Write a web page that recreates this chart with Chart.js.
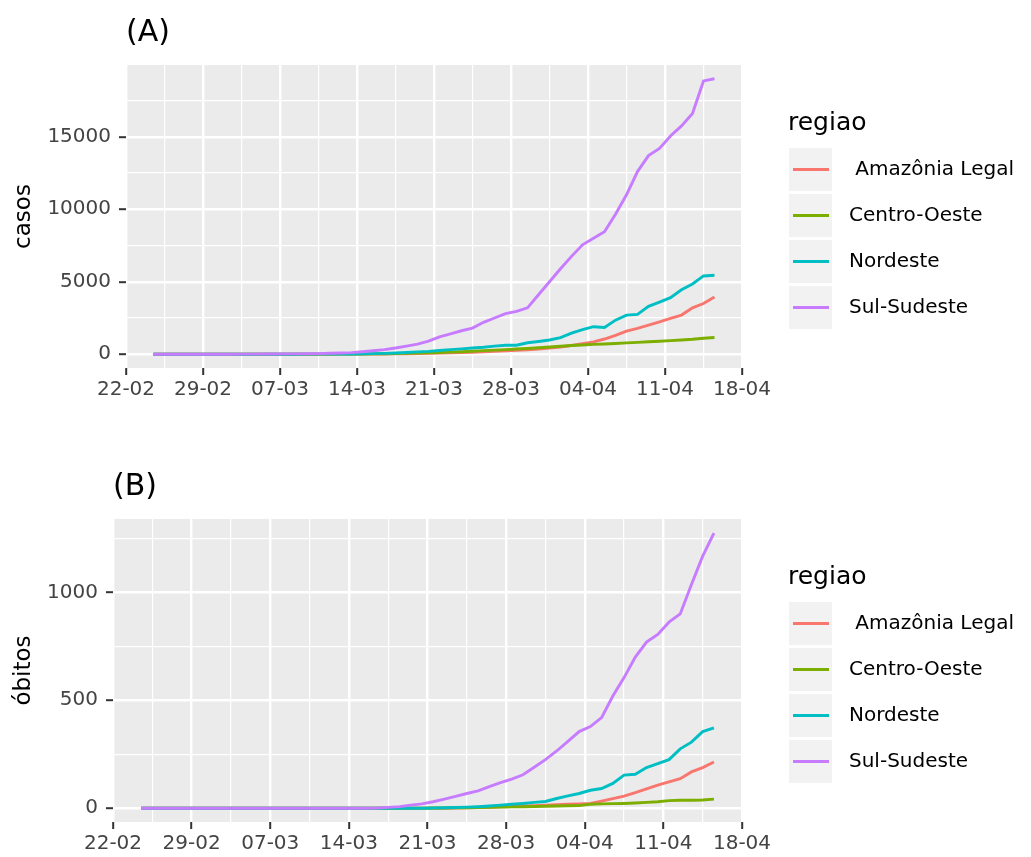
<!DOCTYPE html>
<html>
<head>
<meta charset="utf-8">
<script src="https://cdn.jsdelivr.net/npm/chart.js@4"></script>
<style>
  body { margin: 0; background: #fff; }
  .painel { position: absolute; left: 0; width: 1031px; }
</style>
</head>
<body>
<div class="painel" style="top:0;height:428px"><canvas id="graficoA"></canvas></div>
<div class="painel" style="top:428px;height:429px"><canvas id="graficoB"></canvas></div>
<script>
// datas (dia-mês, 2020)
const datas = ["25-02","26-02","27-02","28-02","29-02","01-03","02-03","03-03","04-03","05-03",
  "06-03","07-03","08-03","09-03","10-03","11-03","12-03","13-03","14-03","15-03",
  "16-03","17-03","18-03","19-03","20-03","21-03","22-03","23-03","24-03","25-03",
  "26-03","27-03","28-03","29-03","30-03","31-03","01-04","02-04","03-04","04-04",
  "05-04","06-04","07-04","08-04","09-04","10-04","11-04","12-04","13-04","14-04",
  "15-04","16-04"];
const rotulosX = ["22-02","29-02","07-03","14-03","21-03","28-03","04-04","11-04","18-04"];

const regioes = [" Amazônia Legal", "Centro-Oeste", "Nordeste", "Sul-Sudeste"];
const cores = ["#F8766D", "#7CAE00", "#00BFC4", "#C77CFF"];

// casos acumulados
const casosAmazonia = [0,0,0,0,0,0,0,0,0,0,0,0,0,
  1,1,2,3,4,5,8,12,18,25,35,45,60,75,95,115,140,170,200,230,270,310,360,420,500,600,720,
  850,1050,1300,1600,1780,2000,2230,2480,2700,3200,3500,3950];
const casosCentroOeste = [0,0,0,0,0,0,0,0,0,0,0,
  1,1,2,3,4,6,8,12,18,25,35,45,60,75,95,120,145,175,210,245,280,320,360,400,450,500,550,600,
  640,680,710,740,780,820,860,900,940,980,1030,1100,1150];
const casosNordeste = [0,0,0,0,0,0,0,0,0,0,
  1,2,2,2,4,6,10,14,20,30,45,60,85,120,160,200,260,320,370,430,480,560,620,620,790,880,980,
  1150,1450,1700,1900,1850,2350,2700,2750,3300,3600,3900,4450,4850,5400,5450];
const casosSulSudeste = [1,1,1,1,2,2,2,3,4,8,13,19,25,25,30,45,65,85,110,170,
  240,320,430,560,700,900,1200,1400,1620,1800,2200,2500,2800,2950,3200,4100,5000,5900,6750,7550,
  8000,8450,9650,11000,12600,13700,14200,15050,15750,16600,18850,19000];

// óbitos acumulados
const obitosAmazonia = [0,0,0,0,0,0,0,0,0,0,0,0,0,0,0,0,0,0,0,0,0,0,0,0,0,0,0,0,
  1,2,3,4,6,8,10,12,14,16,18,20,22,33,44,56,72,90,107,122,137,168,188,214];
const obitosCentroOeste = [0,0,0,0,0,0,0,0,0,0,0,0,0,0,0,0,0,0,0,0,0,0,0,0,0,0,
  1,1,2,2,3,4,5,6,7,8,9,10,11,12,18,20,21,22,24,27,30,35,37,37,38,42];
const obitosNordeste = [0,0,0,0,0,0,0,0,0,0,0,0,0,0,0,0,0,0,0,0,0,0,0,0,0,0,
  1,2,3,5,7,10,14,18,22,27,31,45,57,68,83,91,115,153,157,188,206,225,275,306,355,372];
const obitosSulSudeste = [0,0,0,0,0,0,0,0,0,0,0,0,0,0,0,0,0,0,0,0,0,
  1,4,7,14,20,30,42,55,68,80,100,118,135,155,190,225,265,310,355,378,
  420,520,605,700,770,805,862,900,1037,1168,1275];

const ticksCasos = [0, 2500, 5000, 7500, 10000, 12500, 15000, 17500];
const majorCasos = [0, 5000, 10000, 15000];
const ticksObitos = [0, 250, 500, 750, 1000, 1250];
const majorObitos = [0, 500, 1000];

Chart.defaults.font.family = '"DejaVu Sans", sans-serif';

function diaDe(s) {
  const [d, m] = s.split("-").map(Number);
  return (Date.UTC(2020, m - 1, d) - Date.UTC(2020, 1, 22)) / 86400000;
}

const estiloGG = {
  id: "estiloGG",
  beforeDraw(chart) {
    const a = chart.chartArea, c = chart.ctx;
    c.save();
    c.fillStyle = "#EBEBEB";
    c.fillRect(a.left, a.top, a.right - a.left, a.bottom - a.top);
    c.restore();
  },
  afterDraw(chart, args, opts) {
    const a = chart.chartArea, c = chart.ctx;
    const cy = (a.top + a.bottom) / 2;
    c.save();
    c.fillStyle = "#000";
    c.textAlign = "left";
    c.textBaseline = "middle";
    c.font = '30px "DejaVu Sans"';
    c.fillText(opts.tag, a.left, a.top - 32);
    c.textBaseline = "alphabetic";
    c.font = '25px "DejaVu Sans"';
    c.fillText("regiao", a.right + 46, cy - 86.5);
    c.font = '20px "DejaVu Sans"';
    c.textBaseline = "middle";
    chart.data.datasets.forEach((ds, k) => {
      const yc = cy - 47 + 46 * k;
      c.fillStyle = "#F2F2F2";
      c.fillRect(a.right + 47, yc - 21.5, 43, 43);
      c.strokeStyle = ds.borderColor;
      c.lineWidth = 2.8;
      c.beginPath();
      c.moveTo(a.right + 51, yc);
      c.lineTo(a.right + 87, yc);
      c.stroke();
      c.fillStyle = "#000";
      c.fillText(ds.label, a.right + 107, yc);
    });
    c.restore();
  }
};

function painel(id, series, tituloY, yMin, yMax, ticksY, majorY, larguraY, topo, alturaX, tag) {
  const datasets = series.map((s, k) => ({
    label: regioes[k],
    data: s.map((v, i) => ({ x: diaDe(datas[i]), y: v })),
    borderColor: cores[k],
    backgroundColor: cores[k],
    borderWidth: 2.9,
    pointRadius: 0,
    tension: 0,
    order: series.length - k
  }));
  return new Chart(document.getElementById(id), {
    type: "line",
    data: { datasets: datasets },
    options: {
      responsive: true,
      maintainAspectRatio: false,
      animation: false,
      events: [],
      layout: { padding: { left: 0, right: 289, top: topo, bottom: 0 } },
      plugins: {
        legend: { display: false },
        tooltip: { enabled: false },
        estiloGG: { tag: tag }
      },
      scales: {
        x: {
          type: "linear",
          min: 0.5,
          max: 56.5,
          afterBuildTicks: (sc) => {
            const t = [];
            for (let k = 0; k <= 16; k++) t.push({ value: 0.5 + 3.5 * k });
            sc.ticks = t;
          },
          afterFit: (sc) => { sc.height = alturaX; },
          border: { display: false },
          grid: {
            color: "#FFFFFF",
            lineWidth: (c) => (c.index % 2 === 0 ? 2.4 : 1.2),
            tickColor: (c) => (c.index % 2 === 0 ? "#333333" : "rgba(0,0,0,0)"),
            tickLength: 7,
            tickWidth: 2
          },
          ticks: {
            autoSkip: false,
            maxRotation: 0,
            minRotation: 0,
            padding: 3,
            color: "#444444",
            font: { size: 20 },
            callback: (v, i) => (i % 2 === 0 ? rotulosX[i / 2] : "")
          }
        },
        y: {
          type: "linear",
          min: yMin,
          max: yMax,
          afterBuildTicks: (sc) => { sc.ticks = ticksY.map((v) => ({ value: v })); },
          afterFit: (sc) => { sc.width = larguraY; },
          border: { display: false },
          grid: {
            color: "#FFFFFF",
            lineWidth: (c) => (majorY.includes(c.tick.value) ? 2.4 : 1.2),
            tickColor: (c) => (majorY.includes(c.tick.value) ? "#333333" : "rgba(0,0,0,0)"),
            tickLength: 7,
            tickWidth: 2
          },
          ticks: {
            padding: 8,
            color: "#444444",
            font: { size: 20 },
            callback: (v) => (majorY.includes(v) ? String(v) : "")
          },
          title: {
            display: true,
            text: tituloY,
            color: "#000",
            font: { size: 23 },
            padding: { top: 10, bottom: 0 }
          }
        }
      }
    },
    plugins: [estiloGG]
  });
}

painel("graficoA", [casosAmazonia, casosCentroOeste, casosNordeste, casosSulSudeste],
  "casos", -950, 19950, ticksCasos, majorCasos, 126, 65, 60, "(A)");
painel("graficoB", [obitosAmazonia, obitosCentroOeste, obitosNordeste, obitosSulSudeste],
  "óbitos", -64, 1340, ticksObitos, majorObitos, 113, 91, 35, "(B)");
</script>
</body>
</html>
